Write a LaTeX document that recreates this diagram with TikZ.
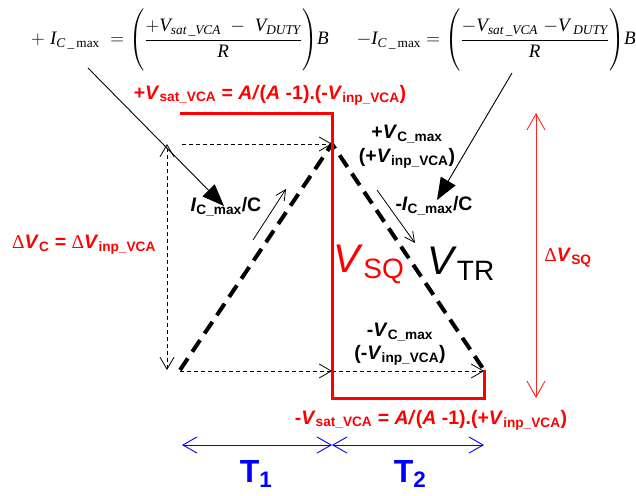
\RequirePackage{fix-cm}
\documentclass[tikz,border=0pt]{standalone}
\usepackage{amsmath}
\usepackage{fontspec}
\setmainfont{Liberation Sans}
\newfontfamily\tms{Liberation Serif}
\usetikzlibrary{arrows.meta}
\newcommand{\bV}{\textit{V}}
\newcommand{\sbx}[1]{\textsubscript{#1}}
\begin{document}
\begin{tikzpicture}[x=1pt,y=-1pt,
  sqw/.style={red, line width=3pt},
  tri/.style={line width=4pt, dash pattern=on 14pt off 8pt},
  dimar/.style={line width=0.8pt, dash pattern=on 4pt off 3pt, -{Straight Barb[length=12pt,width=14pt]}},
  dimboth/.style={line width=0.8pt, dash pattern=on 4pt off 3pt, {Straight Barb[length=12pt,width=14pt]}-{Straight Barb[length=12pt,width=14pt]}},
  bigarr/.style={line width=0.9pt, -{Triangle[length=22pt,width=17pt]}},
  slopearr/.style={line width=0.8pt, -{Straight Barb[length=10pt,width=10pt]}},
  tarr/.style={blue, line width=0.9pt, {Straight Barb[length=14pt,width=16pt]}-{Straight Barb[length=14pt,width=16pt]}},
  sqarr/.style={red!85!white, line width=0.9pt, {Straight Barb[length=16pt,width=18pt]}-{Straight Barb[length=16pt,width=18pt]}},
  lbl/.style={font=\fontsize{19.5}{22}\selectfont\bfseries, inner sep=0pt},
  eq/.style={font=\tms\fontsize{19}{22}\selectfont, inner sep=0pt}
]
\useasboundingbox (0,0) rectangle (636,495);

% coordinates
\coordinate (sq1) at (180,113);
\coordinate (sq2) at (332,113);
\coordinate (sq3) at (332,398);
\coordinate (sq4) at (484,398);
\coordinate (sq5) at (484,370);
\coordinate (tA) at (180,370);
\coordinate (tP) at (332,144);
\coordinate (tB) at (484,370);
\coordinate (hL) at (182,144);
\coordinate (vT) at (167,144);
\coordinate (vB) at (167,370);
\coordinate (bL) at (180,371);
\coordinate (bM) at (332,371);
\coordinate (bR) at (484,371);
\coordinate (bl1) at (182,445);
\coordinate (bl2) at (332,445);
\coordinate (bl3) at (484,445);
\coordinate (rT) at (536,113);
\coordinate (rB) at (536,398);
\coordinate (aLs) at (88,68);
\coordinate (aLe) at (224,206);
\coordinate (aRs) at (512,73);
\coordinate (aRe) at (437,200);
\coordinate (sl1) at (253,240);
\coordinate (sl2) at (286,189);
\coordinate (sr1) at (377,190);
\coordinate (sr2) at (415,243);

% equations
\node[eq] (eqL) at (180,40) {$+\;\textit{I}_{\textit{C}\,\_\,\text{max}} \;= \Biggl(\dfrac{+\textit{V}_{\textit{sat}\,\_\textit{VCA}} \;-\;\textit{V}_{\textit{DUTY}}}{\textit{R}}\Biggr)\textit{B}$};
\node[eq, anchor=east] (eqR) at (636,40) {$-\textit{I}_{\textit{C}\,\_\,\text{max}} = \Biggl(\dfrac{-\textit{V}_{\textit{sat}\,\_\textit{VCA}}\;{-}\textit{V}_{\;\textit{DUTY}}}{\textit{R}}\Biggr)\textit{B}$};

% dashed helper arrows
\draw[dimar] (hL) -- (tP);
\draw[dimboth] (vB) -- (vT);
\draw[dimar] (bL) -- (bM);
\draw[dimar] (bM) -- (bR);

% triangle
\draw[tri] (tA) -- (tP) -- (tB);

% square wave
\draw[sqw] (sq1) -- (sq2) -- (sq3) -- (sq4) -- (sq5);

% big arrows
\draw[bigarr] (aLs) -- (aLe);
\draw[bigarr] (aRs) -- (aRe);

% slope arrows
\draw[slopearr] (sl1) -- (sl2);
\draw[slopearr] (sr1) -- (sr2);

% time arrows
\draw[tarr] (bl1) -- (bl2);
\draw[tarr] (bl2) -- (bl3);

% delta VSQ
\draw[sqarr] (rT) -- (rB);

% labels
\node[lbl, red] (satP) at (270,95) {+\bV\sbx{sat\_VCA} = \textit{A/}(\textit{A} -1).(-\bV\sbx{inp\_VCA})};
\node[lbl, red] (satN) at (431,420) {-\bV\sbx{sat\_VCA} = \textit{A/}(\textit{A} -1).(+\bV\sbx{inp\_VCA})};
\node[lbl, red] (dvc) at (84,245) {{\mdseries\tms Δ}\bV\sbx{C} = {\mdseries\tms Δ}\bV\sbx{inp\_VCA}};
\node[lbl, red] (dvsq) at (568,258) {{\mdseries\tms Δ}\bV\sbx{SQ}};
\node[lbl] (vcp1) at (407,134) {+\bV\sbx{C\_max}};
\node[lbl] (vcp2) at (407,158) {(+\bV\sbx{inp\_VCA})};
\node[lbl] (vcn1) at (400,332) {-\bV\sbx{C\_max}};
\node[lbl] (vcn2) at (400,355) {(-\bV\sbx{inp\_VCA})};
\node[lbl] (icp) at (226,207) {\textit{I}\sbx{C\_max}/C};
\node[lbl] (icn) at (434,206) {-\textit{I}\sbx{C\_max}/C};
\node[font=\fontsize{40}{44}\selectfont, red, inner sep=0pt] (vsq) at (369,264) {\textit{V}\sbx{SQ}};
\node[font=\fontsize{40}{44}\selectfont, inner sep=0pt] (vtr) at (461,264) {\textit{V}\sbx{TR}};
\node[font=\fontsize{32}{36}\selectfont\bfseries, blue, inner sep=0pt] (t1) at (256,474) {T\sbx{1}};
\node[font=\fontsize{32}{36}\selectfont\bfseries, blue, inner sep=0pt] (t2) at (410,474) {T\sbx{2}};
\end{tikzpicture}
\end{document}
